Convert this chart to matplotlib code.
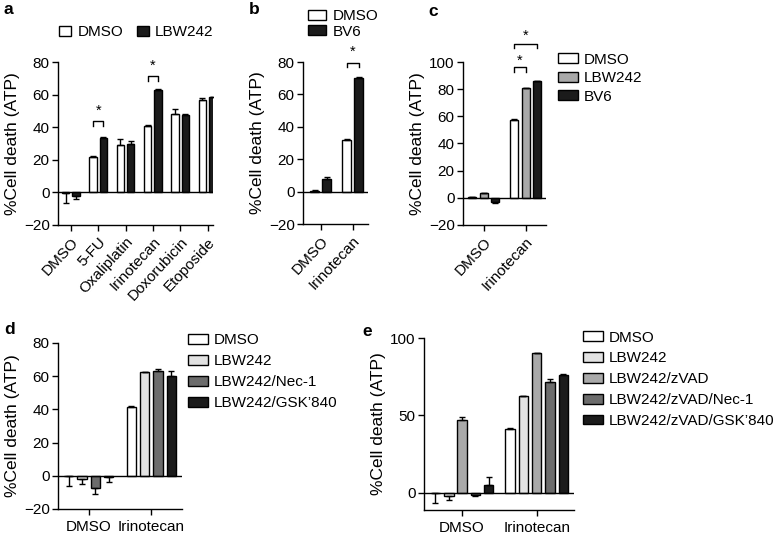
import numpy as np
import matplotlib
matplotlib.use("Agg")
import matplotlib.pyplot as plt
from matplotlib.patches import Patch

plt.rcParams['font.family'] = ['Liberation Sans', 'DejaVu Sans']

# ---- data ----
a_drugs = ["DMSO", "5-FU", "Oxaliplatin", "Irinotecan", "Doxorubicin", "Etoposide"]
a_series = ["DMSO", "LBW242"]
a_mean = [[-0.5, 21.7, 29.2, 41.0, 48.3, 56.4],
          [-2.0, 33.5, 29.9, 62.8, 47.5, 58.4]]
a_sem = [[5.8, 0.4, 3.3, 0.4, 2.7, 1.3],
         [2.3, 0.4, 1.6, 0.4, 0.4, 0.4]]

b_groups = ["DMSO", "Irinotecan"]
b_series = ["DMSO", "BV6"]
b_mean = [[0.3, 32.0], [7.6, 70.3]]
b_sem = [[0.8, 0.4], [1.2, 0.6]]

c_groups = ["DMSO", "Irinotecan"]
c_series = ["DMSO", "LBW242", "BV6"]
c_mean = [[0.5, 57.0], [3.2, 80.6], [-3.2, 85.8]]
c_sem = [[0.3, 0.8], [0.6, 0.6], [0.8, 0.3]]

d_groups = ["DMSO", "Irinotecan"]
d_series = ["DMSO", "LBW242", "LBW242/Nec-1", "LBW242/GSK\u2019840"]
d_mean = [[-0.3, 41.2], [-2.0, 62.5], [-7.4, 62.9], [-1.0, 60.2]]
d_sem = [[6.1, 0.6], [2.8, 0.3], [3.6, 1.6], [3.0, 3.2]]

e_groups = ["DMSO", "Irinotecan"]
e_series = ["DMSO", "LBW242", "LBW242/zVAD", "LBW242/zVAD/Nec-1", "LBW242/zVAD/GSK\u2019840"]
e_mean = [[-0.3, 41.3], [-1.7, 62.4], [47.3, 90.0], [-1.0, 71.4], [5.4, 76.3]]
e_sem = [[6.2, 0.4], [2.6, 0.3], [1.7, 0.4], [0.7, 2.1], [4.6, 0.3]]

WHITE, LIGHT, MID, DARK, BLACK = "#ffffff", "#e2e2e2", "#a9a9a9", "#6c6c6c", "#1b1b1b"

W, H = 777, 537
fig = plt.figure(figsize=(W / 100, H / 100), dpi=100)


def px_axes(left, top, right, bottom):
    return fig.add_axes([left / W, 1 - bottom / H, (right - left) / W, (bottom - top) / H])


def bar_panel(ax, groups, means, sems, colors, width, step, ylim, yticks, xlim, rotate):
    n = len(means)
    x = np.arange(len(groups))
    for i in range(n):
        xs = x + (i - (n - 1) / 2) * step
        m = np.array(means[i])
        s = np.array(sems[i])
        ax.bar(xs, m, width=width, color=colors[i], edgecolor="black", linewidth=1.0, zorder=2)
        lower = np.where(m < 0, s, 0)
        upper = np.where(m >= 0, s, 0)
        ax.errorbar(xs, m, yerr=[lower, upper], fmt="none", ecolor="black",
                    elinewidth=1.0, capsize=2.5, capthick=1.0, zorder=3)
    ax.axhline(0, color="black", lw=1.0, zorder=4)
    ax.set_xlim(*xlim)
    ax.set_ylim(*ylim)
    ax.set_yticks(yticks)
    ax.set_xticks(x)
    for sp in ["top", "right"]:
        ax.spines[sp].set_visible(False)
    for sp in ["left", "bottom"]:
        ax.spines[sp].set_linewidth(1.0)
    ax.tick_params(axis="both", direction="out", length=4, width=1.0, labelsize=11, pad=2)
    if rotate:
        ax.tick_params(axis="x", pad=3)
        ax.set_xticklabels(groups, rotation=47, ha="right", rotation_mode="anchor")
    else:
        ax.tick_params(axis="x", pad=4)
        ax.set_xticklabels(groups)
    ax.set_ylabel("%Cell death (ATP)", fontsize=12.5, labelpad=3)


def bracket(ax, x1, x2, y, h, ystar):
    ax.plot([x1, x1, x2, x2], [y - h, y, y, y - h], color="black", lw=1.0, clip_on=False)
    ax.text((x1 + x2) / 2, ystar, "*", ha="center", va="center", fontsize=10.5, clip_on=False)


def legend(handles_colors, labels, x, y, ncol=1, hl=1.3, colsp=1.0, spacing=0.45):
    handles = [Patch(facecolor=c, edgecolor="black", linewidth=1.0) for c in handles_colors]
    fig.legend(handles, labels, loc="upper left", bbox_to_anchor=(x / W, 1 - y / H),
               ncol=ncol, frameon=False, fontsize=11, handlelength=hl, handleheight=0.6,
               handletextpad=0.4, labelspacing=spacing, borderpad=0, borderaxespad=0,
               columnspacing=colsp)


# panel a
ax = px_axes(58, 62, 213, 225)
bar_panel(ax, a_drugs, a_mean, a_sem, [WHITE, BLACK], 0.27, 0.38,
          (-20, 80), [-20, 0, 20, 40, 60, 80], (-0.47, 5.2), True)
bracket(ax, 1 - 0.19, 1 + 0.19, 43.5, 3, 50)
bracket(ax, 3 - 0.19, 3 + 0.19, 71.4, 3, 77.5)
legend([WHITE, BLACK], a_series, 59, 25.5, ncol=2, hl=0.8, colsp=0.9)

# panel b
ax = px_axes(303, 62, 368, 224)
bar_panel(ax, b_groups, b_mean, b_sem, [WHITE, BLACK], 0.28, 0.38,
          (-20, 80), [-20, 0, 20, 40, 60, 80], (-0.55, 1.48), True)
bracket(ax, 1 - 0.19, 1 + 0.19, 79.4, 2.7, 86)
legend([WHITE, BLACK], b_series, 308, 9.5, hl=1.2, spacing=0.08)

# panel c
ax = px_axes(463, 62, 546, 225)
bar_panel(ax, c_groups, c_mean, c_sem, [WHITE, MID, BLACK], 0.19, 0.275,
          (-20, 100), [-20, 0, 20, 40, 60, 80, 100], (-0.5, 1.49), True)
bracket(ax, 1 - 0.275, 1, 96, 3, 101)
bracket(ax, 1 - 0.275, 1 + 0.275, 113.5, 3, 119.5)
legend([WHITE, MID, BLACK], c_series, 558, 52.5, spacing=0.3)

# panel d
ax = px_axes(58, 343, 182, 509)
bar_panel(ax, d_groups, d_mean, d_sem, [WHITE, LIGHT, DARK, BLACK], 0.15, 0.213,
          (-20, 80), [-20, 0, 20, 40, 60, 80], (-0.49, 1.49), False)
legend([WHITE, LIGHT, DARK, BLACK], d_series, 188, 333.5)

# panel e
ax = px_axes(424, 338, 574, 510)
bar_panel(ax, e_groups, e_mean, e_sem, [WHITE, LIGHT, MID, DARK, BLACK], 0.127, 0.178,
          (-11, 100), [0, 50, 100], (-0.51, 1.5), False)
legend([WHITE, LIGHT, MID, DARK, BLACK], e_series, 583, 330.5)

# panel letters
for lbl, x, y in [("a", 4, 10), ("b", 249, 10), ("c", 428, 11), ("d", 4, 329), ("e", 362, 332)]:
    fig.text(x / W, 1 - y / H, lbl, fontsize=12.5, fontweight="bold", va="center", ha="left")

fig.savefig("out.png", dpi=100)
